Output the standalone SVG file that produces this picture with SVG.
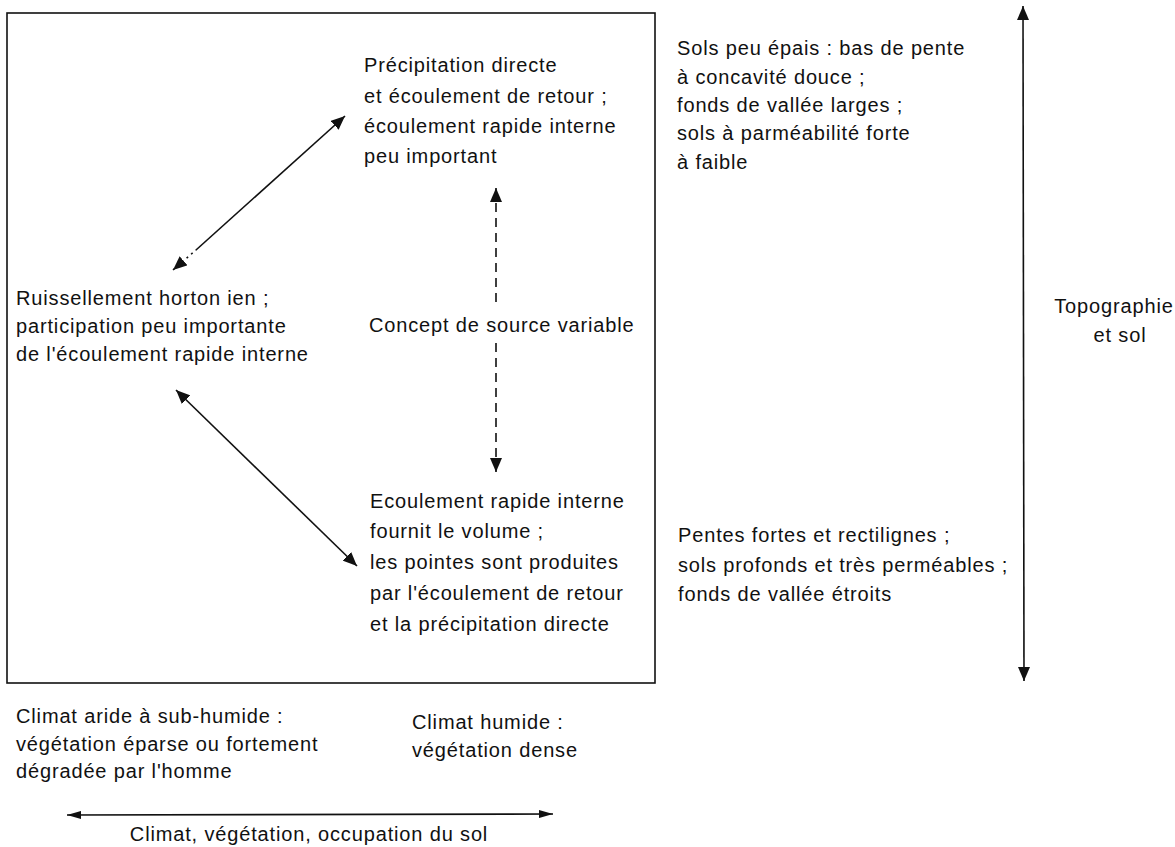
<svg xmlns="http://www.w3.org/2000/svg" width="1175" height="847" viewBox="0 0 1175 847">
<style>
text { font-family: "Liberation Sans", Arial, sans-serif; font-size: 20px; letter-spacing: 0.85px; fill: #111; }
.ln { stroke: #111; stroke-width: 1.6; fill: none; }
.dot { stroke: #111; stroke-width: 1.6; fill: none; stroke-dasharray: 2 4; }
.dash { stroke: #111; stroke-width: 1.6; fill: none; stroke-dasharray: 9 6; }
.box { stroke: #111; stroke-width: 1.6; fill: none; }
</style>
<defs>
<marker id="ah" viewBox="0 0 14 12" refX="14" refY="6" markerWidth="14" markerHeight="12" markerUnits="userSpaceOnUse" orient="auto-start-reverse">
<path d="M0,0 L14,6 L0,12 z" fill="#111"/>
</marker>
<marker id="ahs" viewBox="0 0 14 8" refX="14" refY="4" markerWidth="14" markerHeight="8" markerUnits="userSpaceOnUse" orient="auto-start-reverse">
<path d="M0,0 L14,4 L0,8 z" fill="#111"/>
</marker>
</defs>
<rect width="1175" height="847" fill="#fff"/>
<rect id="frame" class="box" x="7" y="13" width="648" height="670"/>

<g id="connectors">
<line class="dot" x1="173" y1="270" x2="196" y2="250" marker-start="url(#ah)"/>
<line class="ln" x1="196" y1="250" x2="345" y2="116" marker-end="url(#ah)"/>
<line class="dash" x1="496" y1="302" x2="496" y2="188" marker-end="url(#ah)"/>
<line class="dash" x1="496" y1="343" x2="496" y2="472" marker-end="url(#ah)"/>
<line class="ln" x1="176" y1="390" x2="357" y2="566" marker-start="url(#ah)" marker-end="url(#ah)"/>
<line class="ln" x1="1023" y1="6" x2="1024" y2="681" marker-start="url(#ah)" marker-end="url(#ah)"/>
<line class="ln" x1="67" y1="815" x2="553" y2="814" marker-start="url(#ahs)" marker-end="url(#ahs)"/>
</g>

<g id="node-precipitation">
<text x="364" y="72">Précipitation directe</text>
<text x="364" y="103">et écoulement de retour ;</text>
<text x="364" y="133">écoulement rapide interne</text>
<text x="364" y="163">peu important</text>
</g>
<g id="node-ruissellement">
<text x="16" y="305">Ruissellement horton  ien ;</text>
<text x="16" y="333">participation peu importante</text>
<text x="16" y="361">de l'écoulement rapide interne</text>
</g>
<g id="node-concept">
<text x="369" y="332">Concept de source variable</text>
</g>
<g id="node-ecoulement">
<text x="370" y="508">Ecoulement rapide interne</text>
<text x="370" y="538">fournit le volume ;</text>
<text x="370" y="569">les pointes sont produites</text>
<text x="370" y="600">par l'écoulement de retour</text>
<text x="370" y="631">et la précipitation directe</text>
</g>
<g id="node-sols-peu-epais">
<text x="677" y="55">Sols peu épais : bas de pente</text>
<text x="677" y="84">à concavité douce ;</text>
<text x="677" y="112">fonds de vallée larges ;</text>
<text x="677" y="140">sols à parméabilité forte</text>
<text x="677" y="169">à faible</text>
</g>
<g id="node-pentes-fortes">
<text x="678" y="542">Pentes fortes et rectilignes ;</text>
<text x="678" y="572">sols profonds et très perméables ;</text>
<text x="678" y="601">fonds de vallée étroits</text>
</g>
<g id="node-topographie">
<text x="1114" y="313" text-anchor="middle">Topographie</text>
<text x="1120" y="342" text-anchor="middle">et sol</text>
</g>
<g id="node-climat-aride">
<text x="16" y="723">Climat aride à sub-humide :</text>
<text x="16" y="751">végétation éparse ou fortement</text>
<text x="16" y="778">dégradée par l'homme</text>
</g>
<g id="node-climat-humide">
<text x="412" y="729">Climat humide :</text>
<text x="412" y="757">végétation dense</text>
</g>
<g id="node-climat-axis">
<text x="309" y="841" text-anchor="middle">Climat, végétation, occupation du sol</text>
</g>
</svg>
